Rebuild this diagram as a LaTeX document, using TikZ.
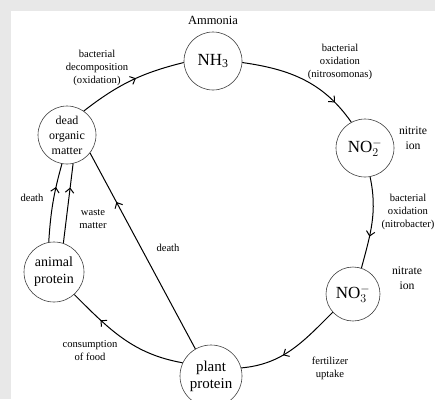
\documentclass[tikz,border=0pt]{standalone}
\usepackage{fontspec}
\setmainfont{Liberation Serif}
\usetikzlibrary{arrows.meta,decorations.markings}

\newcommand\ionof[2]{$\mathrm{#1}_{#2}^{-}$}

\begin{document}
\begin{tikzpicture}[x=1pt,y=1pt,
    pool/.style={draw=black!75,line width=0.6pt,circle,minimum size=58pt,inner sep=0pt,align=center,font=\fontsize{14}{17}\selectfont},
    chem/.style={pool,font=\fontsize{17}{19}\selectfont},
    note/.style={align=center,inner sep=0pt,font=\fontsize{10.6}{13}\selectfont},
    flow/.style={line width=1pt,postaction={decorate},
      decoration={markings,mark=at position #1 with {\arrow{Straight Barb[length=4.5pt,width=8.5pt]}}}},
    flow/.default=0.5]

    \fill[black!9] (0,0) rectangle (435,-399);
    \fill[white] (11,-11) rectangle (435,-399);
    \useasboundingbox (0,0) rectangle (435,-399);

    \node[chem] (nh3) at (213,-61) {NH\textsubscript{3}};
    \node[chem] (no2) at (365,-148) {\ionof{NO}{2}};
    \node[chem,minimum size=54pt] (no3) at (353,-294) {\ionof{NO}{3}};
    \node[pool,minimum size=62pt,font=\fontsize{15}{17}\selectfont] (plant) at (211,-376) {plant\\protein};
    \node[pool,minimum size=60pt] (animal) at (54,-272) {animal\\protein};
    \node[pool,font=\fontsize{12}{15}\selectfont] (dead) at (67,-135) {dead\\organic\\matter};

    \node[note,font=\fontsize{12.5}{15}\selectfont] (ammonia) at (213,-20) {Ammonia};
    \node[note] (decomp) at (97,-68) {bacterial\\decomposition\\(oxidation)};
    \node[note] (nitroso) at (340,-62) {bacterial\\oxidation\\(nitrosomonas)};
    \node[note,font=\fontsize{11.7}{15}\selectfont] (nitrite) at (413,-138) {nitrite\\ion};
    \node[note] (nitrobac) at (408,-212) {bacterial\\oxidation\\(nitrobacter)};
    \node[note,font=\fontsize{11.7}{15}\selectfont] (nitrate) at (407,-278) {nitrate\\ion};
    \node[note] (uptake) at (330,-368) {fertilizer\\uptake};
    \node[note] (consume) at (90,-351) {consumption\\of food};
    \node[note] (plantdeath) at (168,-248) {death};
    \node[note] (animaldeath) at (32,-198) {death};
    \node[note] (waste) at (93,-219) {waste\\matter};

    \draw[flow=0.55] (dead.55) to[bend left=12] (nh3.183);
    \draw[flow=0.8] (nh3.-3) to[out=-8,in=125] (no2.118);
    \draw[flow=0.65] (no2.-80) to[out=-78,in=75] (no3.72);
    \draw[flow=0.6] (no3.-138) to[out=-135,in=5] (plant.15);
    \draw[flow=0.72] (plant.155) to[out=170,in=-45] (animal.-48);
    \draw[flow=0.75] (plant.120) -- (dead.-38);
    \draw[flow=0.7] (animal.100) to[bend left=6] (dead.-100);
    \draw[flow=0.7] (animal.72) -- (dead.-78);
\end{tikzpicture}
\end{document}
